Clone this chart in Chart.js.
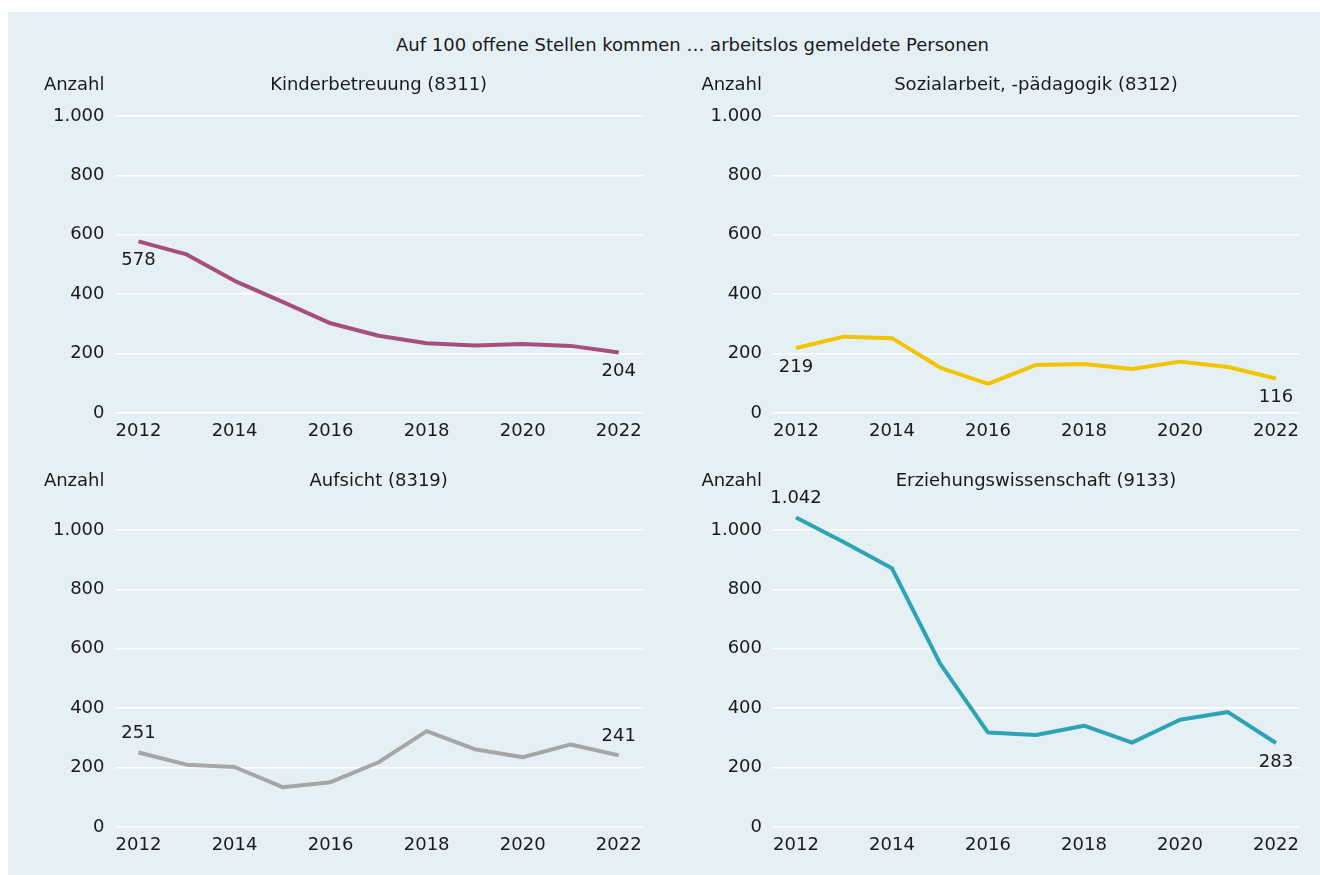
<!DOCTYPE html>
<html lang="de">
<head>
<meta charset="utf-8">
<title>Arbeitslose je 100 offene Stellen</title>
<script src="https://cdn.jsdelivr.net/npm/chart.js@4.4.1/dist/chart.umd.min.js"></script>
<style>
  html, body { margin: 0; padding: 0; background: #fff; }
  body { width: 1320px; height: 875px; position: relative; overflow: hidden; font-family: "DejaVu Sans", sans-serif; }
  #panel { position: absolute; left: 8px; top: 12px; right: 0; bottom: 0; background: #e5f0f5; }
  #title { position: absolute; left: 396px; top: 33px; font-size: 18px; color: #1a1a1a; white-space: nowrap; line-height: 24px; }
  .box { position: absolute; width: 630px; }
  .box canvas { display: block; }
</style>
</head>
<body>
<div id="panel"></div>
<div id="title">Auf 100 offene Stellen kommen … arbeitslos gemeldete Personen</div>
<div class="box" id="b1" style="left:20px; top:60px; height:393px;"><canvas id="chart1"></canvas></div>
<div class="box" id="b2" style="left:680px; top:60px; height:393px;"><canvas id="chart2"></canvas></div>
<div class="box" id="b3" style="left:20px; top:456px; height:411px;"><canvas id="chart3"></canvas></div>
<div class="box" id="b4" style="left:680px; top:456px; height:411px;"><canvas id="chart4"></canvas></div>
<script>
"use strict";

// data
var years = ['2012', '2013', '2014', '2015', '2016', '2017', '2018', '2019', '2020', '2021', '2022'];
var shownYears = ['2012', '2014', '2016', '2018', '2020', '2022'];
var yTicks = [0, 200, 400, 600, 800, 1000];

var kinderbetreuung = [578, 534, 445, 374, 302, 260, 235, 227, 232, 226, 204];
var sozialarbeit = [219, 257, 252, 153, 98, 162, 165, 148, 173, 155, 116];
var aufsicht = [251, 210, 202, 134, 151, 218, 323, 262, 235, 278, 241];
var erziehung = [1042, 959, 871, 551, 318, 310, 341, 284, 361, 387, 283];

var FONT = '"DejaVu Sans", sans-serif';
var TEXT = '#1a1a1a';

function fmt(v) {
  return v.toLocaleString('de-DE');
}

// "Anzahl" + panel title, first / last value labels
var panelText = {
  id: 'panelText',
  afterDatasetsDraw: function(chart, args, opts) {
    var ctx = chart.ctx;
    var area = chart.chartArea;
    ctx.save();
    ctx.font = '18px ' + FONT;
    ctx.fillStyle = TEXT;
    ctx.textBaseline = 'middle';
    ctx.textAlign = 'right';
    ctx.fillText('Anzahl', area.left - 10, 25);
    ctx.textAlign = 'center';
    ctx.fillText(opts.title, (area.left + area.right) / 2, 25);

    var meta = chart.getDatasetMeta(0);
    var data = chart.data.datasets[0].data;
    var idx = [0, data.length - 1];
    for (var i = 0; i < idx.length; i++) {
      var pt = meta.data[idx[i]];
      var dy = opts.pos[i] === 'above' ? -19 : 19;
      ctx.fillText(fmt(data[idx[i]]), pt.x, pt.y + dy);
    }
    ctx.restore();
  }
};

function makeChart(id, title, values, color, pos, padTop, padRight, axisWidth) {
  var ctx = document.getElementById(id).getContext('2d');
  return new Chart(ctx, {
    type: 'line',
    data: {
      labels: years,
      datasets: [{
        data: values,
        borderColor: color,
        borderWidth: 4,
        pointRadius: 0,
        tension: 0,
        borderJoinStyle: 'round',
        clip: false
      }]
    },
    options: {
      responsive: true,
      maintainAspectRatio: false,
      animation: false,
      events: [],
      layout: { padding: { top: padTop, right: padRight, bottom: 0, left: 0 } },
      plugins: {
        legend: { display: false },
        tooltip: { enabled: false },
        panelText: { title: title, pos: pos }
      },
      scales: {
        x: {
          offset: true,
          grid: { display: false, drawTicks: false },
          border: { display: false },
          ticks: {
            autoSkip: false,
            maxRotation: 0,
            padding: 8,
            color: TEXT,
            font: { family: FONT, size: 18 },
            callback: function(v) {
              var lab = this.getLabelForValue(v);
              return shownYears.indexOf(lab) >= 0 ? lab : '';
            }
          },
          afterFit: function(scale) { scale.height = 40; }
        },
        y: {
          min: 0,
          max: 1000,
          afterBuildTicks: function(scale) {
            scale.ticks = yTicks.map(function(v) { return { value: v }; });
          },
          grid: { color: '#ffffff', lineWidth: 1.5, drawTicks: false },
          border: { display: false },
          ticks: {
            padding: 10,
            color: TEXT,
            font: { family: FONT, size: 18 },
            callback: function(v) { return fmt(v); }
          },
          afterFit: function(scale) { scale.width = axisWidth; }
        }
      }
    },
    plugins: [panelText]
  });
}

makeChart('chart1', 'Kinderbetreuung (8311)', kinderbetreuung, '#a64f7e', ['below', 'below'], 56, 7, 94.5);
makeChart('chart2', 'Sozialarbeit, -pädagogik (8312)', sozialarbeit, '#f2c400', ['below', 'below'], 56, 10, 92);
makeChart('chart3', 'Aufsicht (8319)', aufsicht, '#a6a6a6', ['above', 'above'], 74, 7, 94.5);
makeChart('chart4', 'Erziehungswissenschaft (9133)', erziehung, '#2fa3b6', ['above', 'below'], 74, 10, 92);
</script>
</body>
</html>
